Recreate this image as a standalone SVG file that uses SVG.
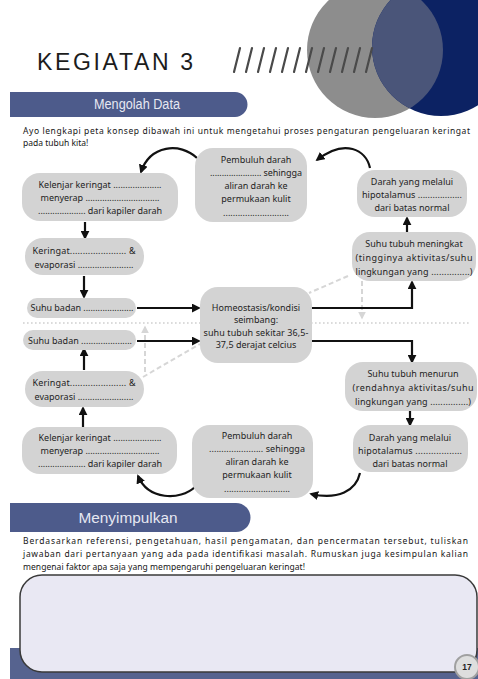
<svg xmlns="http://www.w3.org/2000/svg" width="478" height="679" viewBox="0 0 478 679">
<style>
.bg{fill:#ffffff}
.node{fill:#d3d3d3}
.t{font-family:"Noto Sans","Liberation Sans",sans-serif;font-size:9px;fill:#1e1e1e}
.tm{text-anchor:middle}
.p{font-family:"Noto Sans","Liberation Sans",sans-serif;font-size:8.5px;fill:#161616}
.band{fill:#4d5b8b}
.bt{font-family:"Liberation Sans",Arial,sans-serif;font-size:14px;fill:#e6e8f2;text-anchor:middle}
.arr{fill:none;stroke:#111;stroke-width:2.2;marker-end:url(#ah)}
.dash{fill:none;stroke:#d6d6d6;stroke-width:2;stroke-dasharray:5 3}
.dot{fill:none;stroke:#cfcfcf;stroke-width:1.6;stroke-dasharray:1.6 2.4}
.sl{stroke:#4a4a4a;stroke-width:2.2;stroke-linecap:round}
</style>
<defs>
<marker id="ah" viewBox="0 0 10 10" refX="8" refY="5" markerWidth="9" markerHeight="9" markerUnits="userSpaceOnUse" orient="auto"><path d="M0,0 L10,5 L0,10 z" fill="#111"/></marker>
<marker id="ahg" viewBox="0 0 10 10" refX="8" refY="5" markerWidth="8" markerHeight="8" markerUnits="userSpaceOnUse" orient="auto"><path d="M0,0 L10,5 L0,10 z" fill="#d6d6d6"/></marker>
<clipPath id="cg"><circle cx="375" cy="50" r="68"/></clipPath>
</defs>
<rect class="bg" x="0" y="0" width="478" height="679"/>

<g id="header">
<circle cx="375" cy="50" r="68" fill="#8d8d8d"/>
<circle cx="441" cy="47" r="69" fill="#0c2263"/>
<circle cx="441" cy="47" r="69" fill="#4a5579" clip-path="url(#cg)"/>
<text x="37" y="70" font-family="'Liberation Sans',Arial,sans-serif" font-size="23" fill="#1c1c1c" textLength="156" lengthAdjust="spacing">KEGIATAN 3</text>
<g id="slashes">
<line class="sl" x1="240" y1="48" x2="234" y2="72"/>
<line class="sl" x1="252" y1="48" x2="246" y2="72"/>
<line class="sl" x1="264" y1="48" x2="258" y2="72"/>
<line class="sl" x1="276" y1="48" x2="270" y2="72"/>
<line class="sl" x1="288" y1="48" x2="282" y2="72"/>
<line class="sl" x1="300" y1="48" x2="294" y2="72"/>
<line class="sl" x1="312" y1="48" x2="306" y2="72"/>
<line class="sl" x1="324" y1="48" x2="318" y2="72"/>
<line class="sl" x1="336" y1="48" x2="330" y2="72"/>
<line class="sl" x1="348" y1="48" x2="342" y2="72"/>
<line class="sl" x1="360" y1="48" x2="354" y2="72"/>
<line class="sl" x1="372" y1="48" x2="366" y2="72"/>
</g>
</g>

<g id="band-mengolah">
<path class="band" d="M10,92 H235 A12.5,12.5 0 0 1 235,117 H10 Z"/>
<text class="bt" x="137" y="109" textLength="86" lengthAdjust="spacingAndGlyphs">Mengolah Data</text>
</g>

<g id="intro">
<text class="p" x="23" y="134" textLength="447" lengthAdjust="spacing">Ayo lengkapi peta konsep dibawah ini untuk mengetahui proses pengaturan pengeluaran keringat</text>
<text class="p" x="23" y="146">pada tubuh kita!</text>
</g>

<g id="guides">
<line class="dot" x1="23" y1="323" x2="470" y2="323"/>
<line class="dash" x1="348" y1="276" x2="309" y2="293"/>
<path class="dash" d="M362,281 V318" marker-end="url(#ahg)"/>
<line class="dash" x1="143" y1="377" x2="200" y2="344"/>
<path class="dash" d="M145,372 V327" marker-end="url(#ahg)"/>
</g>

<g id="connectors">
<path class="arr" d="M85,222 V238"/>
<path class="arr" d="M84,276 V297"/>
<path class="arr" d="M137,308 H199"/>
<path class="arr" d="M137,341 H199"/>
<path class="arr" d="M84,370 V349"/>
<path class="arr" d="M83,427 V408"/>
<path class="arr" d="M312,308 H412 V282"/>
<path class="arr" d="M312,341 H412 V362"/>
<path class="arr" d="M407,232 V218"/>
<path class="arr" d="M410,411 V425"/>
<path class="arr" d="M370,168 C366,150 345,138 317,160"/>
<path class="arr" d="M197,158 C180,142 150,145 141,172"/>
<path class="arr" d="M360,473 C356,491 338,500 311,494"/>
<path class="arr" d="M195,487 C180,501 148,500 138,476"/>
</g>

<g id="node-kelenjar-top">
<rect class="node" x="22" y="173" width="156" height="48" rx="18"/>
<text class="t tm" x="100" y="188" textLength="123" lengthAdjust="spacing">Kelenjar keringat ....................</text>
<text class="t tm" x="100" y="201" textLength="119" lengthAdjust="spacing">menyerap ...............................</text>
<text class="t tm" x="100" y="214" textLength="124" lengthAdjust="spacing">.................... dari kapiler darah</text>
</g>

<g id="node-keringat-top">
<rect class="node" x="25" y="238" width="119" height="37" rx="18"/>
<text class="t tm" x="84" y="254" textLength="103" lengthAdjust="spacing">Keringat......................  &amp;</text>
<text class="t tm" x="84" y="268" textLength="99" lengthAdjust="spacing">evaporasi .......................</text>
</g>

<g id="node-suhu-badan-top">
<rect class="node" x="27" y="298" width="109" height="20" rx="10"/>
<text class="t tm" x="82" y="311" textLength="103" lengthAdjust="spacing">Suhu badan .....................</text>
</g>

<g id="node-suhu-badan-bottom">
<rect class="node" x="23" y="330" width="113" height="20" rx="10"/>
<text class="t tm" x="80" y="344" textLength="104" lengthAdjust="spacing">Suhu badan .....................</text>
</g>

<g id="node-keringat-bottom">
<rect class="node" x="25" y="371" width="119" height="36" rx="18"/>
<text class="t tm" x="84" y="386" textLength="103" lengthAdjust="spacing">Keringat......................  &amp;</text>
<text class="t tm" x="84" y="400" textLength="99" lengthAdjust="spacing">evaporasi .......................</text>
</g>

<g id="node-kelenjar-bottom">
<rect class="node" x="22" y="427" width="155" height="47" rx="18"/>
<text class="t tm" x="100" y="441" textLength="123" lengthAdjust="spacing">Kelenjar keringat ....................</text>
<text class="t tm" x="100" y="454" textLength="119" lengthAdjust="spacing">menyerap ...............................</text>
<text class="t tm" x="100" y="467" textLength="124" lengthAdjust="spacing">.................... dari kapiler darah</text>
</g>

<g id="node-homeostasis">
<rect class="node" x="200" y="287" width="112" height="76" rx="18"/>
<text class="t tm" x="256" y="311">Homeostasis/kondisi</text>
<text class="t tm" x="256" y="323">seimbang:</text>
<text class="t tm" x="256" y="336" textLength="105" lengthAdjust="spacing">suhu tubuh sekitar 36,5-</text>
<text class="t tm" x="256" y="348">37,5 derajat celcius</text>
</g>

<g id="node-pembuluh-top">
<rect class="node" x="195" y="148" width="112" height="74" rx="18"/>
<text class="t tm" x="256" y="163">Pembuluh darah</text>
<text class="t tm" x="256" y="176" textLength="92" lengthAdjust="spacing">...................... sehingga</text>
<text class="t tm" x="256" y="189">aliran darah ke</text>
<text class="t tm" x="256" y="202">permukaan kulit</text>
<text class="t tm" x="256" y="216" textLength="66" lengthAdjust="spacing">...........................</text>
</g>

<g id="node-darah-top">
<rect class="node" x="357" y="170" width="110" height="47" rx="18"/>
<text class="t tm" x="412" y="185">Darah yang melalui</text>
<text class="t tm" x="412" y="198" textLength="100" lengthAdjust="spacing">hipotalamus ..................</text>
<text class="t tm" x="412" y="211">dari batas normal</text>
</g>

<g id="node-suhu-meningkat">
<rect class="node" x="352" y="232" width="124" height="49" rx="18"/>
<text class="t tm" x="414" y="247">Suhu tubuh meningkat</text>
<text class="t tm" x="414" y="261" textLength="117" lengthAdjust="spacing">(tingginya aktivitas/suhu</text>
<text class="t tm" x="414" y="275" textLength="117" lengthAdjust="spacing">lingkungan yang ...............)</text>
</g>

<g id="node-suhu-menurun">
<rect class="node" x="345" y="362" width="132" height="49" rx="18"/>
<text class="t tm" x="413" y="377">Suhu tubuh menurun</text>
<text class="t tm" x="413" y="391" textLength="121" lengthAdjust="spacing">(rendahnya aktivitas/suhu</text>
<text class="t tm" x="413" y="405" textLength="116" lengthAdjust="spacing">lingkungan yang ...............)</text>
</g>

<g id="node-darah-bottom">
<rect class="node" x="353" y="425" width="115" height="47" rx="18"/>
<text class="t tm" x="410" y="441">Darah yang melalui</text>
<text class="t tm" x="410" y="454" textLength="104" lengthAdjust="spacing">hipotalamus ..................</text>
<text class="t tm" x="410" y="467">dari batas normal</text>
</g>

<g id="node-pembuluh-bottom">
<rect class="node" x="192" y="425" width="121" height="73" rx="18"/>
<text class="t tm" x="257" y="439">Pembuluh darah</text>
<text class="t tm" x="257" y="452" textLength="96" lengthAdjust="spacing">...................... sehingga</text>
<text class="t tm" x="257" y="465">aliran darah ke</text>
<text class="t tm" x="257" y="478">permukaan kulit</text>
<text class="t tm" x="257" y="492" textLength="66" lengthAdjust="spacing">...........................</text>
</g>

<g id="band-menyimpulkan">
<path class="band" d="M10,503 H236 A14.5,14.5 0 0 1 236,532 H10 Z"/>
<text class="bt" x="128" y="523" font-size="15" textLength="99" lengthAdjust="spacingAndGlyphs">Menyimpulkan</text>
</g>

<g id="paragraph">
<text class="p" x="23" y="544" textLength="445" lengthAdjust="spacing">Berdasarkan referensi, pengetahuan, hasil pengamatan, dan pencermatan tersebut, tuliskan</text>
<text class="p" x="23" y="557" textLength="445" lengthAdjust="spacing">jawaban dari pertanyaan yang ada pada identifikasi masalah. Rumuskan juga kesimpulan kalian</text>
<text class="p" x="23" y="570" textLength="282" lengthAdjust="spacing">mengenai faktor apa saja yang mempengaruhi pengeluaran keringat!</text>
</g>

<g id="footer">
<rect x="10" y="648" width="468" height="31" fill="#56638f"/>
<rect x="20" y="575" width="457" height="97" rx="22" fill="#e9e8f3" stroke="#3a3a3a" stroke-width="1.5"/>
<circle cx="467" cy="667" r="12" fill="#dedede" stroke="#a0a0a0" stroke-width="2"/>
<text x="467" y="670" text-anchor="middle" font-family="'Liberation Sans',Arial,sans-serif" font-size="8.5" font-weight="bold" fill="#222">17</text>
</g>
</svg>
